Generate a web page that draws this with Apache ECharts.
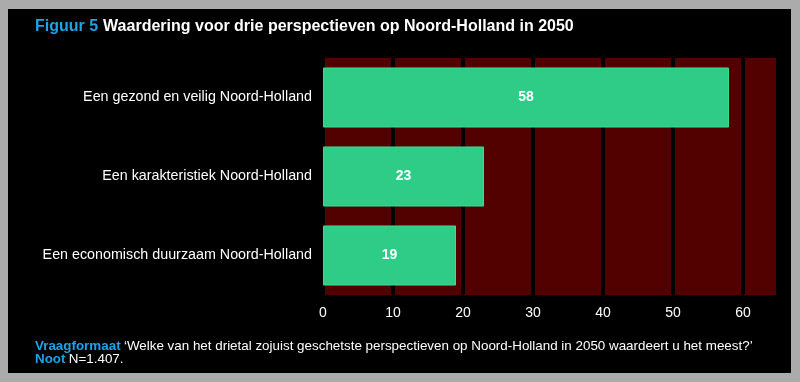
<!DOCTYPE html>
<html>
<head>
<meta charset="utf-8">
<script src="https://cdn.jsdelivr.net/npm/echarts@6/dist/echarts.min.js"></script>
<style>
html,body{margin:0;padding:0;background:#ababab;width:800px;height:382px;overflow:hidden;}
#bg{position:absolute;left:8px;top:9px;width:783px;height:364px;background:#000;}
#chart{position:absolute;left:0;top:0;width:800px;height:382px;}
</style>
</head>
<body>
<div id="bg"></div>
<div id="chart"></div>
<script>
const categories = [
  'Een gezond en veilig Noord-Holland',
  'Een karakteristiek Noord-Holland',
  'Een economisch duurzaam Noord-Holland'
];
const values = [58, 23, 19];
const titleLabel = 'Figuur 5';
const titleText = 'Waardering voor drie perspectieven op Noord-Holland in 2050';
const noteQuestionLabel = 'Vraagformaat';
const noteQuestion = '\u2018Welke van het drietal zojuist geschetste perspectieven op Noord-Holland in 2050 waardeert u het meest?\u2019';
const noteLabel = 'Noot';
const noteText = 'N=1.407.';

const chart = echarts.init(document.getElementById('chart'));
const FONT = 'Liberation Sans, Arial, sans-serif';
chart.setOption({
  backgroundColor: 'transparent',
  animation: false,
  title: {
    left: 30, top: 13,
    text: '{b|' + titleLabel + '} {w|' + titleText + '}',
    textStyle: {
      rich: {
        b: {color: '#1da3e6', fontSize: 16, fontWeight: 'bold', fontFamily: FONT},
        w: {color: '#ffffff', fontSize: 16, fontWeight: 'bold', fontFamily: FONT}
      }
    }
  },
  graphic: [{
    type: 'text', left: 35, top: 340,
    style: {
      text: '{b|' + noteQuestionLabel + '} {w|' + noteQuestion + '}\n{b|' + noteLabel + '} {w|' + noteText + '}',
      rich: {
        b: {fill: '#1da3e6', fontSize: 13.4, fontWeight: 'bold', fontFamily: FONT, lineHeight: 12.5},
        w: {fill: '#ffffff', fontSize: 13.4, fontFamily: FONT, lineHeight: 12.5}
      }
    }
  }],
  grid: {
    left: 323, right: 22, top: 58, bottom: 87,
    show: true, backgroundColor: '#520000', borderWidth: 0
  },
  xAxis: {
    type: 'value', min: 0, max: 65, interval: 10,
    axisLine: {show: false}, axisTick: {show: false},
    axisLabel: {color: '#ffffff', fontSize: 14, fontFamily: FONT, margin: 11, showMaxLabel: false},
    splitLine: {show: true, lineStyle: {color: '#000000', width: 4}}
  },
  yAxis: {
    type: 'category', data: categories, inverse: true,
    axisLine: {show: false}, axisTick: {show: false},
    axisLabel: {color: '#ffffff', fontSize: 14.3, fontFamily: FONT, margin: 11},
    splitLine: {show: false}
  },
  series: [{
    type: 'bar', data: values, barCategoryGap: '24%',
    itemStyle: {color: '#2ecc87', borderColor: '#3ddc95', borderWidth: 1},
    label: {show: true, position: 'inside', color: '#ffffff', fontSize: 14, fontWeight: 'bold', fontFamily: FONT}
  }]
});
</script>
</body>
</html>
